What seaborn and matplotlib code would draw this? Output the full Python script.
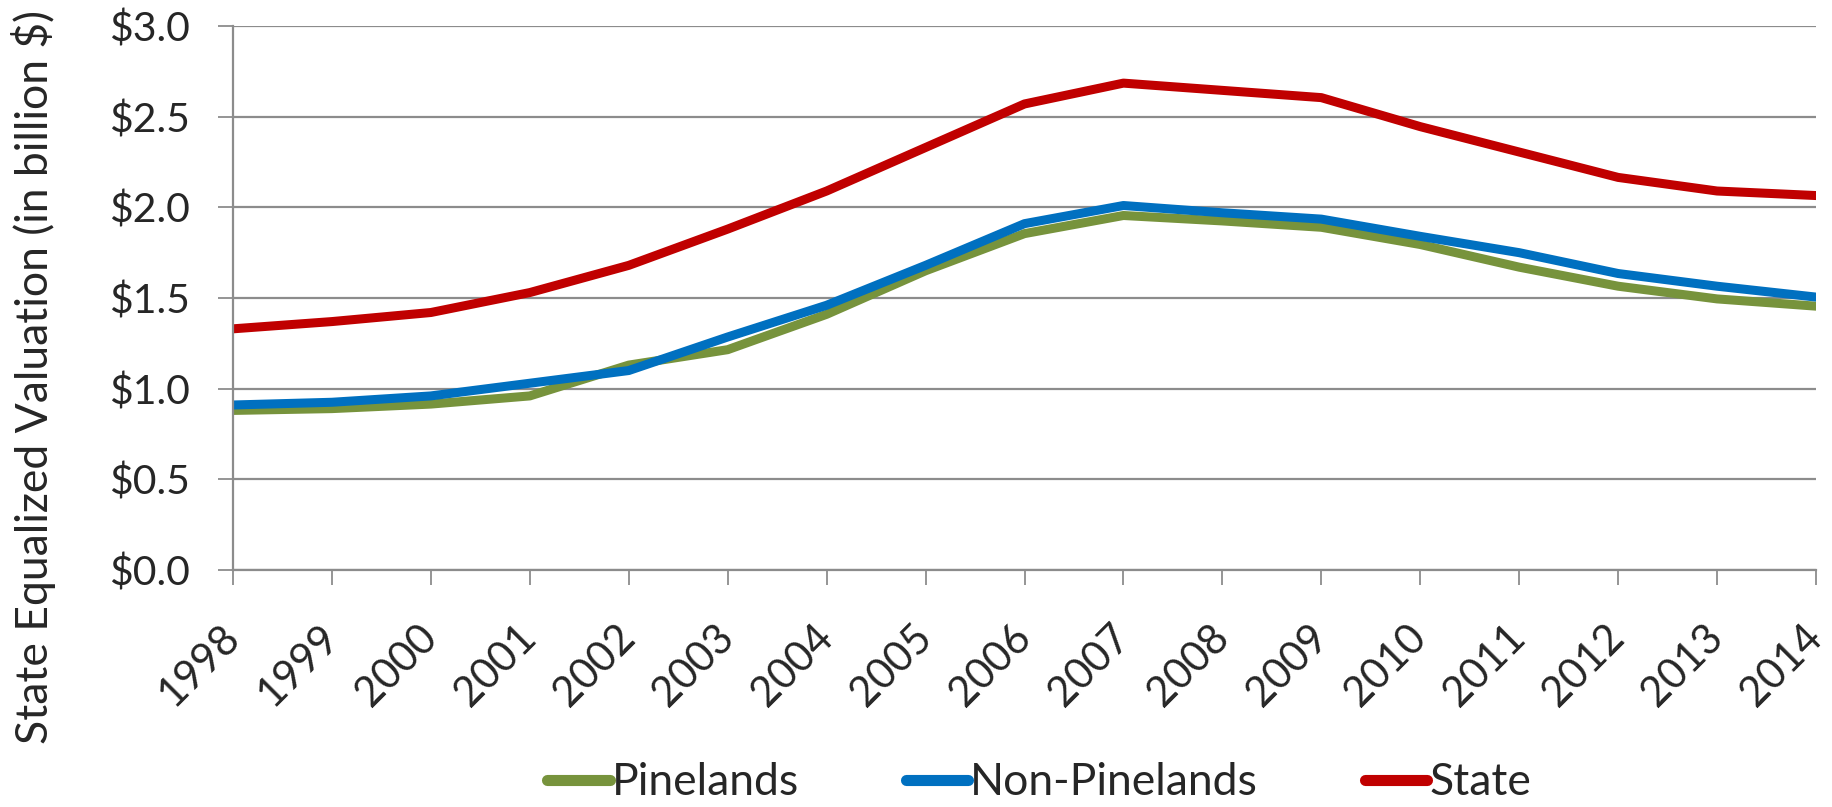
import matplotlib
matplotlib.use("Agg")
import matplotlib.pyplot as plt
import seaborn as sns
import pandas as pd

years = list(range(1998, 2015))
pinelands = [0.88, 0.89, 0.915, 0.96, 1.13, 1.215, 1.41, 1.65, 1.855, 1.955, 1.925, 1.89, 1.795, 1.67, 1.565, 1.495, 1.455]
non_pinelands = [0.91, 0.925, 0.96, 1.03, 1.10, 1.285, 1.46, 1.68, 1.91, 2.01, 1.97, 1.935, 1.84, 1.75, 1.635, 1.565, 1.505]
state = [1.33, 1.37, 1.42, 1.53, 1.68, 1.88, 2.09, 2.33, 2.57, 2.685, 2.645, 2.605, 2.445, 2.305, 2.165, 2.09, 2.065]
series_names = ["Pinelands", "Non-Pinelands", "State"]
colors = ["#77933C", "#0070C0", "#C00000"]
y_ticks = [0.0, 0.5, 1.0, 1.5, 2.0, 2.5, 3.0]
y_label = "State Equalized Valuation (in billion $)"

df = pd.DataFrame({
    "Year": years * 3,
    "Value": pinelands + non_pinelands + state,
    "Series": [series_names[0]] * len(years) + [series_names[1]] * len(years) + [series_names[2]] * len(years),
})

sns.set_theme(style="white")
plt.rcParams["font.family"] = ["Lato", "DejaVu Sans"]

fig = plt.figure(figsize=(18.33, 8.07), dpi=100)
ax = fig.add_axes([233 / 1833, 1 - 570 / 807, (1816 - 233) / 1833, (570 - 26) / 807])

sns.lineplot(data=df, x="Year", y="Value", hue="Series", palette=colors,
             hue_order=series_names, linewidth=6.5, ax=ax, legend=True)

ax.set_xlim(1998, 2014)
ax.set_ylim(0, 3.0)
ax.set_yticks(y_ticks)
ax.set_yticklabels([f"${v:.1f}" for v in y_ticks], fontsize=29.5)
ax.set_xticks(years)
ax.set_xticklabels([str(y) for y in years], rotation=45, ha="right", va="center",
                   rotation_mode="anchor", fontsize=30)
ax.set_xlabel("")
ax.set_ylabel(y_label, fontsize=32)
ax.yaxis.set_label_coords(-0.112, 0.355)

ax.grid(axis="y", color="#8C8C8C", linewidth=1.6)
ax.set_axisbelow(True)
for s in ["top", "right"]:
    ax.spines[s].set_visible(False)
for s in ["left", "bottom"]:
    ax.spines[s].set_color("#8C8C8C")
    ax.spines[s].set_linewidth(1.6)
ax.tick_params(axis="both", which="major", direction="out", length=11,
               width=1.3, color="#8C8C8C", bottom=True, left=True)
ax.tick_params(axis="y", pad=20)
ax.tick_params(axis="x", pad=33)

handles, labels = ax.get_legend_handles_labels()
ax.get_legend().remove()
for h in handles:
    h.set_linewidth(8)
fig.legend(handles, labels, loc="center", bbox_to_anchor=(0.567, 0.03),
           ncol=3, frameon=False, fontsize=32, handlelength=1.4,
           handletextpad=0.05, columnspacing=2.4)

fig.savefig("out.png", dpi=100)
